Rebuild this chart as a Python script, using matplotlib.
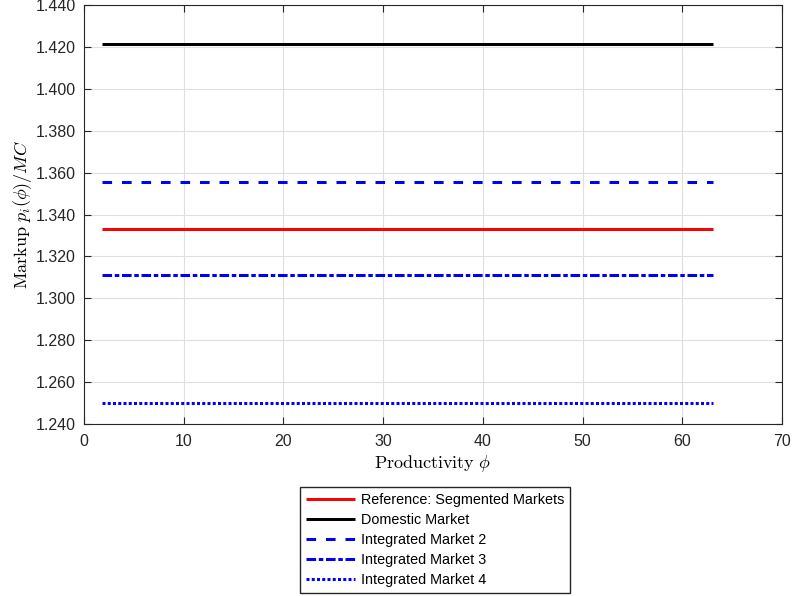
import numpy as np
import matplotlib.pyplot as plt
from matplotlib.ticker import FormatStrFormatter

plt.rcParams['font.family'] = ['Liberation Sans', 'DejaVu Sans']
plt.rcParams['mathtext.fontset'] = 'cm'

# productivity grid endpoints and markup levels for each case
phi = [1.83, 63.05]
markup_segmented = 1.3333
markup_domestic = 1.4216
markup_int2 = 1.3555
markup_int3 = 1.3112
markup_int4 = 1.2500

labels = ['Reference: Segmented Markets', 'Domestic Market',
          'Integrated Market 2', 'Integrated Market 3', 'Integrated Market 4']

fig = plt.figure(figsize=(7.97, 5.96), dpi=100)
ax = fig.add_axes([0.1054, 0.2886, 0.8758, 0.7030])

kw = dict(lw=2.16, solid_capstyle='butt', dash_capstyle='butt')
ax.plot(phi, [markup_segmented] * 2, color='red', label=labels[0], **kw)
ax.plot(phi, [markup_domestic] * 2, color='black', label=labels[1], **kw)
ax.plot(phi, [markup_int2] * 2, color='blue', ls=(0, (3.2, 3.3)), label=labels[2], **kw)
ax.plot(phi, [markup_int3] * 2, color='blue', ls=(0, (3.2, 0.9, 1.5, 0.9)), label=labels[3], **kw)
ax.plot(phi, [markup_int4] * 2, color='blue', ls=(0, (1, 0.75)), label=labels[4], **kw)

ax.set_xlim(0, 70)
ax.set_ylim(1.24, 1.44)
ax.set_xticks(np.arange(0, 71, 10))
ax.set_yticks(np.arange(1.24, 1.4401, 0.02))
ax.yaxis.set_major_formatter(FormatStrFormatter('%.3f'))
ax.grid(True, color='#dfdfdf', lw=0.8)
ax.tick_params(direction='in', top=True, right=True, labelsize=11.5,
               colors='#262626', length=5)
ax.tick_params(axis='x', pad=7)
ax.tick_params(axis='y', pad=6)
for s in ax.spines.values():
    s.set_color('#262626')
    s.set_linewidth(0.8)

ax.set_xlabel(r'$\mathrm{Productivity}\ \phi$', fontsize=13, labelpad=3)
ax.set_ylabel(r'$\mathrm{Markup}\ p_i(\phi)/MC$', fontsize=13, labelpad=1)

ax.legend(loc='upper center', bbox_to_anchor=(0.503, -0.15), fontsize=10.4,
          frameon=True, fancybox=False, edgecolor='#262626', framealpha=1,
          handlelength=3.4, handletextpad=0.4, labelspacing=0.42,
          borderpad=0.4, borderaxespad=0)

fig.savefig('out.png', dpi=100)
